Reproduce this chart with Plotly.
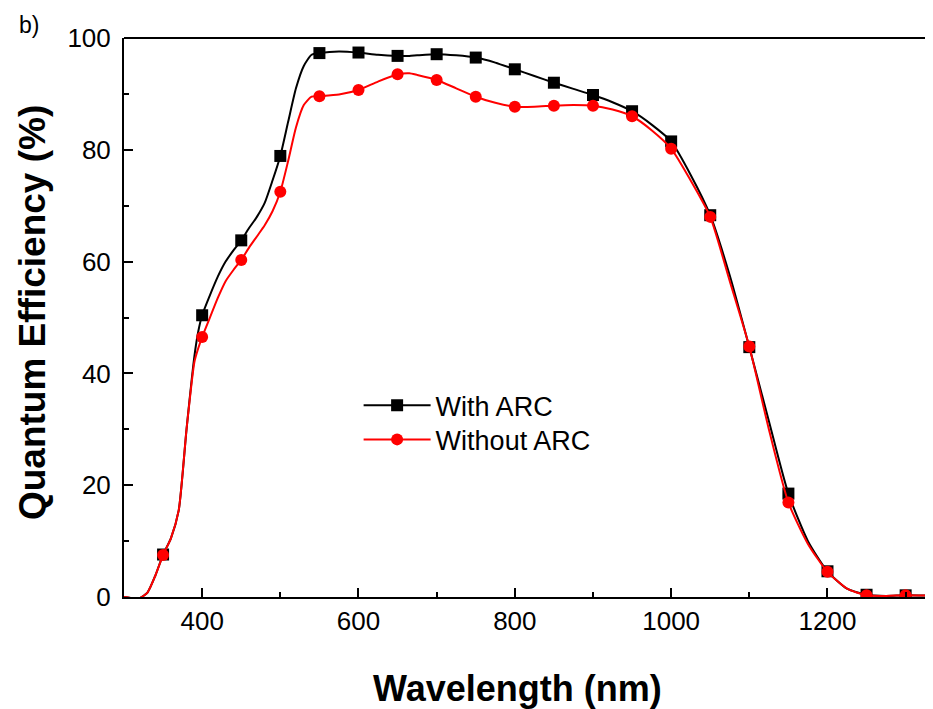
import plotly.graph_objects as go

# Marker data (every 50 nm)
wl_markers = [350, 400, 450, 500, 550, 600, 650, 700, 750, 800, 850, 900,
              950, 1000, 1050, 1100, 1150, 1200, 1250, 1300]
qe_with_arc = [7.6, 50.4, 63.8, 78.9, 97.3, 97.4, 96.8, 97.1, 96.5, 94.4, 92.0, 89.8,
               86.9, 81.5, 68.3, 44.7, 18.5, 4.6, 0.4, 0.3]
qe_without_arc = [7.5, 46.5, 60.3, 72.5, 89.6, 90.7, 93.5, 92.5, 89.5, 87.7, 87.9, 87.9,
                  86.0, 80.2, 68.0, 44.8, 16.9, 4.5, 0.3, 0.3]

# Curve data
wl_curve = [300, 310, 320, 330, 340, 350, 360, 370, 380, 390, 395, 400, 410, 420, 430, 440,
            450, 460, 470, 480, 490, 500, 510, 520, 530, 540, 550, 575, 600, 625, 650, 665,
            675, 700, 725, 750, 775, 800, 825, 850, 875, 900, 925, 950, 975, 1000, 1025,
            1050, 1075, 1100, 1125, 1150, 1175, 1200, 1225, 1250, 1275, 1300, 1340]
curve_with_arc = [0.0, -0.2, -0.2, 0.8, 3.8, 7.6, 10.5, 15.5, 30.0, 43.0, 47.5, 50.4, 54.0,
                  57.3, 60.0, 62.0, 63.8, 66.0, 68.0, 70.5, 74.5, 78.9, 85.0, 91.0, 95.0,
                  97.0, 97.3, 97.6, 97.4, 97.0, 96.8, 96.8, 96.9, 97.1, 96.9, 96.5, 95.6,
                  94.4, 93.2, 92.0, 90.9, 89.8, 88.5, 86.9, 84.5, 81.5, 75.5, 68.3, 57.5,
                  44.7, 31.5, 18.5, 10.0, 4.6, 1.5, 0.4, 0.2, 0.3, 0.2]
curve_without_arc = [0.0, -0.2, -0.2, 0.8, 3.8, 7.5, 10.5, 15.5, 30.0, 42.0, 44.5, 46.5, 50.0,
                     53.5, 56.5, 58.5, 60.3, 62.5, 64.5, 66.5, 69.0, 72.5, 78.0, 84.0, 88.0,
                     89.5, 89.6, 89.9, 90.7, 92.2, 93.5, 93.7, 93.4, 92.5, 91.0, 89.5, 88.4,
                     87.7, 87.7, 87.9, 88.0, 87.9, 87.2, 86.0, 83.5, 80.2, 74.5, 68.0, 56.5,
                     44.8, 30.0, 16.9, 9.5, 4.5, 1.5, 0.3, 0.2, 0.3, 0.2]

series = [
    ("With ARC", "black", "square", curve_with_arc, qe_with_arc, "legend"),
    ("Without ARC", "#ff0000", "circle", curve_without_arc, qe_without_arc, "legend2"),
]

fig = go.Figure()
for name, color, symbol, curve, pts, leg in series:
    fig.add_trace(go.Scatter(x=wl_curve, y=curve, mode="lines",
                             line=dict(color=color, width=2, shape="spline", smoothing=0.6),
                             showlegend=False, hoverinfo="skip"))
    fig.add_trace(go.Scatter(x=wl_markers, y=pts, mode="markers",
                             marker=dict(color=color, symbol=symbol, size=12),
                             showlegend=False, name=name))
for name, color, symbol, curve, pts, leg in series:
    fig.add_trace(go.Scatter(x=[None], y=[None], mode="lines+markers", name=name,
                             legend=leg,
                             line=dict(color=color, width=2),
                             marker=dict(color=color, symbol=symbol, size=12)))

font_family = "Liberation Sans, Arial, sans-serif"
legend_style = dict(xanchor="left", yanchor="top", bgcolor="rgba(0,0,0,0)",
                    font=dict(size=27, family=font_family), itemwidth=67)

fig.update_layout(
    width=925, height=701,
    margin=dict(l=116, r=0, t=30, b=112),
    paper_bgcolor="white", plot_bgcolor="white",
    font=dict(family=font_family, size=26, color="black"),
    showlegend=True,
    legend=dict(x=0.29, y=0.386, **legend_style),
    legend2=dict(x=0.29, y=0.325, **legend_style),
    xaxis=dict(range=[300, 1335], tick0=0, dtick=200, ticks="inside", ticklen=9,
               tickwidth=2, tickcolor="black", showline=True, linewidth=2,
               linecolor="black", showgrid=False, zeroline=False,
               minor=dict(ticks="inside", dtick=100, ticklen=5, tickwidth=2,
                          tickcolor="black", showgrid=False),
               tickfont=dict(size=26)),
    yaxis=dict(range=[0, 100], tick0=0, dtick=20, ticks="inside", ticklen=9,
               tickwidth=2, tickcolor="black", showline=True, linewidth=2,
               linecolor="black", showgrid=False, zeroline=False,
               minor=dict(ticks="inside", dtick=10, ticklen=5, tickwidth=2,
                          tickcolor="black", showgrid=False),
               ticklabelstandoff=6,
               tickfont=dict(size=26)),
    shapes=[dict(type="line", xref="paper", yref="paper", x0=0, x1=1, y0=1, y1=1,
                 line=dict(color="black", width=2))],
    annotations=[
        dict(text="b)", xref="paper", yref="paper", x=-0.132, y=1.023,
             xanchor="left", yanchor="middle", showarrow=False,
             font=dict(size=23, family=font_family)),
        dict(text="<b>Wavelength (nm)</b>", xref="paper", yref="paper", x=0.487, y=-0.164,
             xanchor="center", yanchor="middle", showarrow=False,
             font=dict(size=36, family=font_family)),
        dict(text="<b>Quantum Efficiency (%)</b>", xref="paper", yref="paper", x=-0.113,
             y=0.509, xanchor="center", yanchor="middle", textangle=-90, showarrow=False,
             font=dict(size=37, family=font_family)),
    ],
)

fig.write_html("out.html")
